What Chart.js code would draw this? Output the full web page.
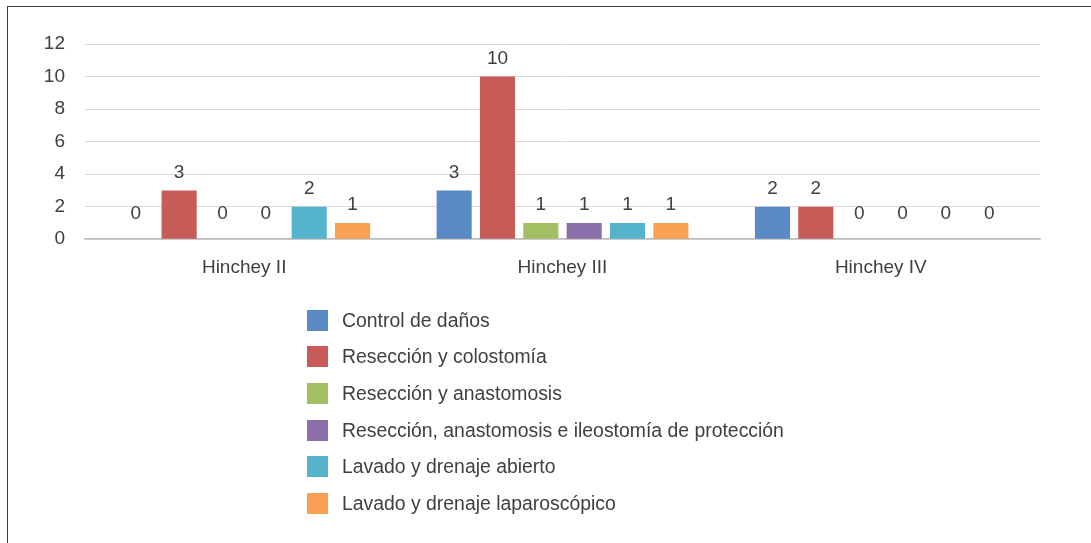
<!DOCTYPE html>
<html>
<head>
<meta charset="utf-8">
<script src="https://cdn.jsdelivr.net/npm/chart.js@4.4.1/dist/chart.umd.min.js"></script>
<style>
  html, body { margin: 0; padding: 0; background: #fff; }
  #wrap { position: relative; width: 1091px; height: 543px; overflow: hidden; font-family: 'Liberation Sans', Arial, sans-serif; }
  #frame { position: absolute; left: 7px; top: 6px; width: 1200px; height: 700px; border-top: 1.5px solid #3a3a3a; border-left: 1.5px solid #3a3a3a; }
  #chart { position: absolute; left: 0; top: 0; }
  #legend { position: absolute; left: 307px; top: 302px; margin: 0; padding: 0; list-style: none; }
  #legend li { height: 36.6px; display: flex; align-items: center; font-size: 19.4px; color: #404040; }
  #legend span.box { width: 21px; height: 21px; margin-right: 14px; display: inline-block; }
</style>
</head>
<body>
<div id="wrap">
  <div id="frame"></div>
  <canvas id="chart" width="1091" height="543"></canvas>
  <ul id="legend"></ul>
</div>
<script>
// ===== DATA =====
const categories = ['Hinchey II', 'Hinchey III', 'Hinchey IV'];
const seriesNames = [
  'Control de daños',
  'Resección y colostomía',
  'Resección y anastomosis',
  'Resección, anastomosis e ileostomía de protección',
  'Lavado y drenaje abierto',
  'Lavado y drenaje laparoscópico'
];
const controlDanos      = [0, 3, 2];
const reseccionColost   = [3, 10, 2];
const reseccionAnast    = [0, 1, 0];
const reseccionIleost   = [0, 1, 0];
const lavadoAbierto     = [2, 1, 0];
const lavadoLaparosc    = [1, 1, 0];
const yTicks = [0, 2, 4, 6, 8, 10, 12];

const seriesValues = [controlDanos, reseccionColost, reseccionAnast, reseccionIleost, lavadoAbierto, lavadoLaparosc];
const colors = ['#5A8AC6', '#C65B57', '#A2BF63', '#8B6FAB', '#55B4CC', '#F9A053'];

const FONT = "'Liberation Sans', Arial, sans-serif";
const TEXT = '#404040';

// data labels above each bar
const barLabels = {
  id: 'barLabels',
  afterDatasetsDraw(chart) {
    const ctx = chart.ctx;
    ctx.save();
    ctx.font = '19px ' + FONT;
    ctx.fillStyle = TEXT;
    ctx.textAlign = 'center';
    ctx.textBaseline = 'middle';
    chart.data.datasets.forEach((ds, i) => {
      chart.getDatasetMeta(i).data.forEach((bar, j) => {
        const v = ds.data[j];
        const off = v === 0 ? 25 : 18;
        ctx.fillText(String(v), bar.x, bar.y - off);
      });
    });
    ctx.restore();
  }
};

const chart = new Chart(document.getElementById('chart'), {
  type: 'bar',
  data: {
    labels: categories,
    datasets: seriesNames.map((name, i) => ({
      label: name,
      data: seriesValues[i],
      backgroundColor: colors[i],
      borderWidth: 0,
      categoryPercentage: 0.817,
      barPercentage: 0.81,
    }))
  },
  options: {
    responsive: false,
    animation: false,
    layout: { padding: { top: 44, right: 51, bottom: 255, left: 0 } },
    plugins: {
      legend: { display: false },
      tooltip: { enabled: false }
    },
    scales: {
      x: {
        grid: { display: false },
        border: { display: true, color: '#bdbdbd', width: 1.5 },
        ticks: { font: { family: FONT, size: 19 }, color: TEXT, padding: 9 }
      },
      y: {
        min: 0,
        max: 12,
        afterBuildTicks(scale) { scale.ticks = yTicks.map(v => ({ value: v })); },
        afterFit(scale) { scale.width = 85; },
        grid: { color: '#d9d9d9', lineWidth: 1, drawTicks: false },
        border: { display: false },
        ticks: { font: { family: FONT, size: 19 }, color: TEXT, padding: 20 }
      }
    }
  },
  plugins: [barLabels]
});

// legend, one entry per row
const legend = document.getElementById('legend');
chart.data.datasets.forEach(ds => {
  const li = document.createElement('li');
  const box = document.createElement('span');
  box.className = 'box';
  box.style.background = ds.backgroundColor;
  li.appendChild(box);
  li.appendChild(document.createTextNode(ds.label));
  legend.appendChild(li);
});
</script>
</body>
</html>
